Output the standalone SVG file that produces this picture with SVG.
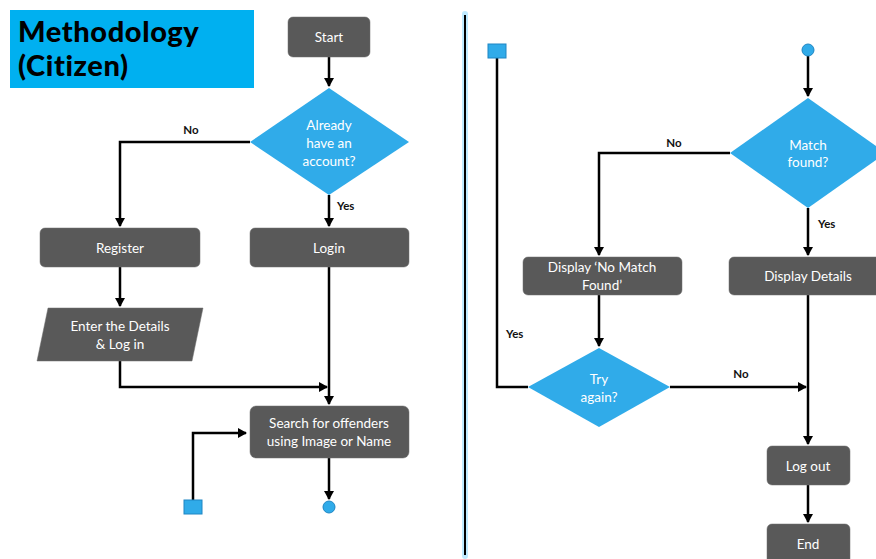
<svg xmlns="http://www.w3.org/2000/svg" width="876" height="559" viewBox="0 0 876 559">
<defs>
<marker id="ah" markerWidth="10" markerHeight="10" refX="8" refY="5" orient="auto" markerUnits="userSpaceOnUse">
<path d="M0,0 L9,5 L0,10 Z" fill="#000"/>
</marker>
</defs>
<style>
.box{fill:#595959;stroke:#6e6e6e;stroke-width:0.5}
.dia{fill:#30ABE9}
.sq{fill:#30ABE9;stroke:#1F86C3;stroke-width:1}
.t{font-family:Lato,"Open Sans",sans-serif;font-size:13.5px;fill:#fff;text-anchor:middle}
.lb{font-family:Lato,"Open Sans",sans-serif;font-size:11.5px;font-weight:bold;fill:#111}
.c{fill:none;stroke:#000;stroke-width:2.5}
.title{font-family:Lato,"DejaVu Sans",sans-serif;font-weight:900;font-size:29px;letter-spacing:0.6px;fill:#000}
</style>
<rect width="876" height="559" fill="#fff"/>
<g id="title">
<rect x="10" y="10" width="244" height="78" fill="#00B0F0"/>
<text class="title" x="18" y="42">Methodology</text>
<text class="title" x="18" y="76">(Citizen)</text>
</g>
<g id="divider">
<line x1="465" y1="14" x2="465" y2="556" stroke="#bfeaff" stroke-width="6" stroke-linecap="round"/>
<line x1="465" y1="15" x2="465" y2="555" stroke="#000" stroke-width="2"/>
</g>
<g id="connectors">
<path class="c" d="M329,57 V86" marker-end="url(#ah)"/>
<path class="c" d="M250,142 H120 V226" marker-end="url(#ah)"/>
<path class="c" d="M329,195 V226" marker-end="url(#ah)"/>
<path class="c" d="M120,267 V306" marker-end="url(#ah)"/>
<path class="c" d="M120,361 V387 H327" marker-end="url(#ah)"/>
<path class="c" d="M329,267 V404" marker-end="url(#ah)"/>
<path class="c" d="M193,500 V433 H246" marker-end="url(#ah)"/>
<path class="c" d="M329,458 V499" marker-end="url(#ah)"/>
<path class="c" d="M497,58 V387 H528"/>
<path class="c" d="M808,56 V96" marker-end="url(#ah)"/>
<path class="c" d="M730,153 H599 V255" marker-end="url(#ah)"/>
<path class="c" d="M808,208 V255" marker-end="url(#ah)"/>
<path class="c" d="M599,295 V346" marker-end="url(#ah)"/>
<path class="c" d="M670,387 H806" marker-end="url(#ah)"/>
<path class="c" d="M808,295 V444" marker-end="url(#ah)"/>
<path class="c" d="M808,485 V522" marker-end="url(#ah)"/>
<text class="lb" x="191" y="134" text-anchor="middle">No</text>
<text class="lb" x="337" y="210">Yes</text>
<text class="lb" x="674" y="147" text-anchor="middle">No</text>
<text class="lb" x="818" y="228">Yes</text>
<text class="lb" x="506" y="338">Yes</text>
<text class="lb" x="741" y="378" text-anchor="middle">No</text>
</g>
<g id="start"><rect class="box" x="288" y="17" width="82" height="40" rx="5"/><text class="t" x="329" y="42">Start</text></g>
<g id="account"><polygon class="dia" points="329,88 409,142 329,195 250,142"/><text class="t" x="329" y="130">Already</text><text class="t" x="329" y="148">have an</text><text class="t" x="329" y="166">account?</text></g>
<g id="register"><rect class="box" x="40" y="228" width="160" height="39" rx="5"/><text class="t" x="120" y="253">Register</text></g>
<g id="login"><rect class="box" x="250" y="228" width="159" height="39" rx="5"/><text class="t" x="329" y="253">Login</text></g>
<g id="enter"><polygon class="box" points="48,308 203,308 192,361 37,361"/><text class="t" x="120" y="331">Enter the Details</text><text class="t" x="120" y="349">&amp; Log in</text></g>
<g id="search"><rect class="box" x="250" y="406" width="159" height="52" rx="6"/><text class="t" x="329" y="428">Search for offenders</text><text class="t" x="329" y="446">using Image or Name</text></g>
<g id="conn-left-sq"><rect class="sq" x="184" y="500" width="18" height="14"/></g>
<g id="conn-left-circle"><circle cx="329" cy="507" r="6" class="sq"/></g>
<g id="conn-right-sq"><rect class="sq" x="488" y="44" width="18" height="14"/></g>
<g id="conn-right-circle"><circle cx="808" cy="50" r="6" class="sq"/></g>
<g id="match"><polygon class="dia" points="808,98 886,153 808,208 730,153"/><text class="t" x="808" y="150">Match</text><text class="t" x="808" y="167">found?</text></g>
<g id="nomatch"><rect class="box" x="523" y="257" width="159" height="38" rx="5"/><text class="t" x="602" y="272">Display ‘No Match</text><text class="t" x="602" y="290">Found’</text></g>
<g id="details"><rect class="box" x="729" y="257" width="160" height="38" rx="5"/><text class="t" x="808" y="281">Display Details</text></g>
<g id="tryagain"><polygon class="dia" points="599,348 670,387 599,427 528,387"/><text class="t" x="599" y="384">Try</text><text class="t" x="599" y="402">again?</text></g>
<g id="logout"><rect class="box" x="767" y="446" width="83" height="39" rx="5"/><text class="t" x="808" y="471">Log out</text></g>
<g id="end"><rect class="box" x="767" y="524" width="83" height="42" rx="5"/><text class="t" x="808" y="549">End</text></g>
</svg>
